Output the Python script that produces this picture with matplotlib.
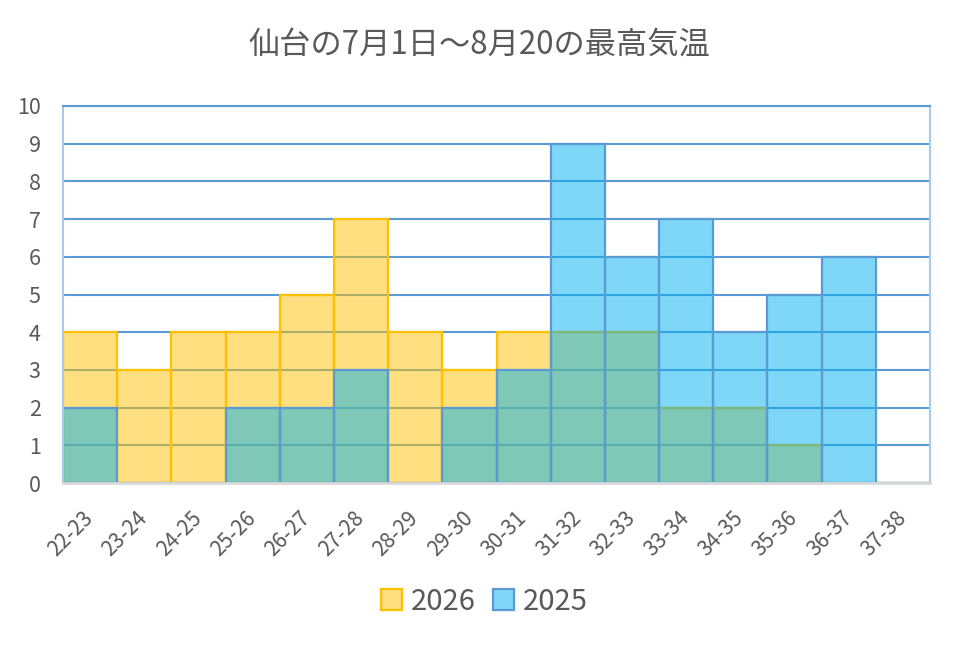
import numpy as np
import matplotlib
matplotlib.use("Agg")
import matplotlib.pyplot as plt

plt.rcParams['font.family'] = ['Noto Sans CJK JP', 'DejaVu Sans']

# 気温の階級と日数
bins = ['22-23', '23-24', '24-25', '25-26', '26-27', '27-28', '28-29', '29-30',
        '30-31', '31-32', '32-33', '33-34', '34-35', '35-36', '36-37', '37-38']
days_2026 = [4, 3, 4, 4, 5, 7, 4, 3, 4, 4, 4, 2, 2, 1, 0, 0]
days_2025 = [2, 0, 0, 2, 2, 3, 0, 2, 3, 9, 6, 7, 4, 5, 6, 0]
yticks = list(range(0, 11))

text_gray = '#595959'
grid_blue = '#5B9BD5'

fig = plt.figure(figsize=(9.57, 6.46), dpi=100)
ax = fig.add_axes([63 / 957, 1 - 483 / 646, (930 - 63) / 957, (483 - 106) / 646])

x = np.arange(len(bins))
b1 = ax.bar(x, days_2026, width=1.0, align='center',
            facecolor=(1.0, 0.753, 0.0, 0.5), edgecolor='#FFC000',
            linewidth=1.6, label='2026')
b2 = ax.bar(x, days_2025, width=1.0, align='center',
            facecolor=(0.0, 0.69, 0.94, 0.5), edgecolor=grid_blue,
            linewidth=1.6, label='2025')

ax.set_xlim(-0.5, len(bins) - 0.5)
ax.set_ylim(0, 10)
ax.set_yticks(yticks)
ax.set_xticks(x)
ax.set_xticklabels(bins, rotation=45, ha='right', va='center',
                   rotation_mode='anchor')

ax.set_axisbelow(True)
ax.yaxis.grid(True, color=grid_blue, linewidth=1.5)
ax.xaxis.grid(False)

ax.tick_params(axis='y', length=0, pad=16, labelsize=15.5, labelcolor=text_gray)
ax.tick_params(axis='x', length=0, pad=23, labelsize=15, labelcolor=text_gray)

ax.spines['left'].set_color('#A9CBEA')
ax.spines['right'].set_color('#A9CBEA')
ax.spines['left'].set_linewidth(1.5)
ax.spines['right'].set_linewidth(1.5)
ax.spines['top'].set_color(grid_blue)
ax.spines['top'].set_linewidth(1.5)
ax.spines['bottom'].set_color('#D9D9D9')
ax.spines['bottom'].set_linewidth(2)

fig.text(479 / 957, 1 - 45 / 646, '仙台の7月1日～8月20の最高気温',
         ha='center', va='center', fontsize=22.5, color=text_gray)

leg = fig.legend(handles=[b1, b2], loc='center', ncol=2,
                 bbox_to_anchor=(484 / 957, 1 - 602 / 646),
                 frameon=False, fontsize=21, handlelength=0.72,
                 handleheight=0.72, handletextpad=0.3, columnspacing=0.6)
for t in leg.get_texts():
    t.set_color(text_gray)

fig.savefig('out.png', dpi=100)
